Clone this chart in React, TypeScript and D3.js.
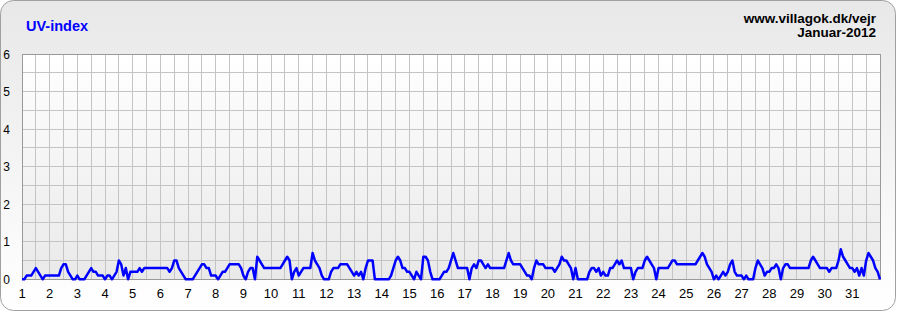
import React from "react";
import * as d3 from "d3";

// UV-index, January 2012, sampled every 2 hours (12 values per day)
const HOURS_PER_STEP = 2;
const uvByDay: number[][] = [
  [0, 0, 0.1, 0.1, 0.1, 0.2, 0.3, 0.2, 0.1, 0, 0.1, 0.1],
  [0.1, 0.1, 0.1, 0.1, 0.1, 0.3, 0.4, 0.4, 0.2, 0.1, 0, 0],
  [0.1, 0, 0, 0, 0.1, 0.2, 0.3, 0.2, 0.2, 0.1, 0.1, 0.1],
  [0, 0.1, 0.1, 0, 0.1, 0.2, 0.5, 0.4, 0.1, 0.3, 0, 0.2],
  [0.2, 0.2, 0.2, 0.3, 0.2, 0.3, 0.3, 0.3, 0.3, 0.3, 0.3, 0.3],
  [0.3, 0.3, 0.3, 0.3, 0.2, 0.3, 0.5, 0.5, 0.3, 0.2, 0.1, 0],
  [0, 0, 0, 0.1, 0.2, 0.3, 0.4, 0.4, 0.3, 0.3, 0.1, 0.1],
  [0.1, 0, 0.1, 0.2, 0.2, 0.3, 0.4, 0.4, 0.4, 0.4, 0.4, 0.3],
  [0.1, 0, 0.2, 0.3, 0.3, 0, 0.6, 0.5, 0.4, 0.3, 0.3, 0.3],
  [0.3, 0.3, 0.3, 0.3, 0.3, 0.4, 0.5, 0.6, 0.5, 0, 0.2, 0.3],
  [0.1, 0.2, 0.3, 0.3, 0.3, 0.3, 0.7, 0.5, 0.4, 0.3, 0.1, 0],
  [0, 0, 0.2, 0.3, 0.3, 0.3, 0.4, 0.4, 0.4, 0.4, 0.3, 0.2],
  [0.1, 0.2, 0.1, 0.2, 0, 0.3, 0.5, 0.5, 0.5, 0, 0, 0],
  [0, 0, 0, 0, 0.1, 0.3, 0.5, 0.6, 0.5, 0.3, 0.3, 0.2],
  [0.2, 0.1, 0, 0.2, 0.1, 0, 0.6, 0.6, 0.5, 0.2, 0, 0],
  [0, 0, 0.1, 0.2, 0.2, 0.3, 0.5, 0.7, 0.5, 0.3, 0.3, 0.3],
  [0.3, 0.3, 0, 0.3, 0.4, 0.3, 0.5, 0.5, 0.4, 0.3, 0.4, 0.3],
  [0.3, 0.3, 0.3, 0.3, 0.3, 0.3, 0.5, 0.7, 0.5, 0.4, 0.4, 0.4],
  [0.4, 0.3, 0.2, 0.1, 0.1, 0, 0.3, 0.5, 0.4, 0.4, 0.4, 0.3],
  [0.3, 0.3, 0.3, 0.2, 0.3, 0.4, 0.6, 0.5, 0.5, 0.4, 0.3, 0],
  [0.3, 0, 0, 0, 0, 0, 0.2, 0.3, 0.3, 0.2, 0.3, 0.1],
  [0.2, 0.1, 0.1, 0.3, 0.3, 0.4, 0.5, 0.4, 0.5, 0.3, 0.3, 0.3],
  [0.3, 0, 0.2, 0.3, 0.3, 0.3, 0.5, 0.6, 0.5, 0.4, 0.3, 0],
  [0.3, 0.3, 0.3, 0.3, 0.3, 0.4, 0.5, 0.5, 0.4, 0.4, 0.4, 0.4],
  [0.4, 0.4, 0.4, 0.4, 0.4, 0.5, 0.6, 0.7, 0.6, 0.4, 0.3, 0.2],
  [0, 0.1, 0, 0.1, 0.2, 0.1, 0.2, 0.4, 0.5, 0.2, 0.1, 0.1],
  [0.1, 0, 0.1, 0, 0, 0, 0.3, 0.5, 0.4, 0.3, 0.1, 0.2],
  [0.2, 0.3, 0.3, 0.4, 0.3, 0, 0.3, 0.4, 0.4, 0.3, 0.3, 0.3],
  [0.3, 0.3, 0.3, 0.3, 0.3, 0.3, 0.5, 0.6, 0.5, 0.4, 0.3, 0.3],
  [0.3, 0.3, 0.2, 0.3, 0.3, 0.3, 0.5, 0.8, 0.6, 0.5, 0.4, 0.3],
  [0.3, 0.2, 0.3, 0.1, 0.3, 0.1, 0.5, 0.7, 0.6, 0.5, 0.3, 0.2],
];
const finalValue = 0;

const dayLabels: string[] = Array.from({ length: 31 }, (_, i) => String(i + 1));
const yTicks: number[] = [0, 1, 2, 3, 4, 5, 6];
const title = "UV-index";
const siteText = "www.villagok.dk/vejr";
const periodText = "Januar-2012";

const W = 897;
const H = 312;
const plot = { left: 22, right: 880, top: 54, bottom: 279.3 };

export default function App() {
  const values: number[] = [...uvByDay.flat(), finalValue];
  const totalHours = uvByDay.length * 24;
  const x = d3.scaleLinear().domain([0, totalHours]).range([plot.left, plot.right]);
  const y = d3.scaleLinear().domain([0, 6]).range([plot.bottom, plot.top]);

  const line = d3
    .line<number>()
    .x((_, i) => x(i * HOURS_PER_STEP))
    .y((v) => y(v));

  const vGrid = d3.range(0, totalHours + 1, 12);
  const hGrid = d3.range(0, 6.01, 0.5);

  return (
    <svg
      width={W}
      height={H}
      style={{ position: "absolute", left: 0, top: 0, display: "block" }}
      fontFamily="'Liberation Sans', Arial, sans-serif"
    >
      <defs>
        <linearGradient id="outerBg" x1="0" y1="0" x2="0" y2="1">
          <stop offset="0" stopColor="#e8e8e8" />
          <stop offset="1" stopColor="#ffffff" />
        </linearGradient>
        <linearGradient id="plotBg" x1="0" y1="0" x2="0" y2="1">
          <stop offset="0" stopColor="#ffffff" />
          <stop offset="1" stopColor="#e9e9e9" />
        </linearGradient>
      </defs>
      <rect x={0.5} y={0.5} width={W - 2} height={H - 2} rx={13} ry={13} fill="url(#outerBg)" stroke="#a0a0a0" />
      <rect
        x={plot.left}
        y={plot.top}
        width={plot.right - plot.left}
        height={plot.bottom - plot.top}
        fill="url(#plotBg)"
      />
      <g stroke="#c4c4c4" strokeWidth={1} shapeRendering="crispEdges">
        {vGrid.map((h) => (
          <line key={"v" + h} x1={x(h)} x2={x(h)} y1={plot.top} y2={plot.bottom} />
        ))}
        {hGrid.map((v) => (
          <line key={"h" + v} x1={plot.left} x2={plot.right} y1={y(v)} y2={y(v)} />
        ))}
      </g>
      <rect
        x={plot.left}
        y={plot.top}
        width={plot.right - plot.left}
        height={plot.bottom - plot.top}
        fill="none"
        stroke="#999999"
        shapeRendering="crispEdges"
      />
      <path d={line(values) || ""} fill="none" stroke="#0000ff" strokeWidth={2.5} strokeLinejoin="round" />
      {yTicks.map((t) => (
        <text key={"y" + t} x={10} y={y(t) + 4.5} fontSize={12} textAnchor="end" fill="#000">
          {t}
        </text>
      ))}
      {dayLabels.map((d, i) => (
        <text key={"x" + d} x={x(i * 24)} y={298} fontSize={13} textAnchor="middle" fill="#000">
          {d}
        </text>
      ))}
      <text x={26} y={30.7} fontSize={14.5} fontWeight="bold" fill="#0000ff">
        {title}
      </text>
      <text x={876} y={23} fontSize={13.5} fontWeight="bold" textAnchor="end" fill="#000">
        {siteText}
      </text>
      <text x={876} y={37.3} fontSize={13.5} fontWeight="bold" textAnchor="end" fill="#000">
        {periodText}
      </text>
    </svg>
  );
}
